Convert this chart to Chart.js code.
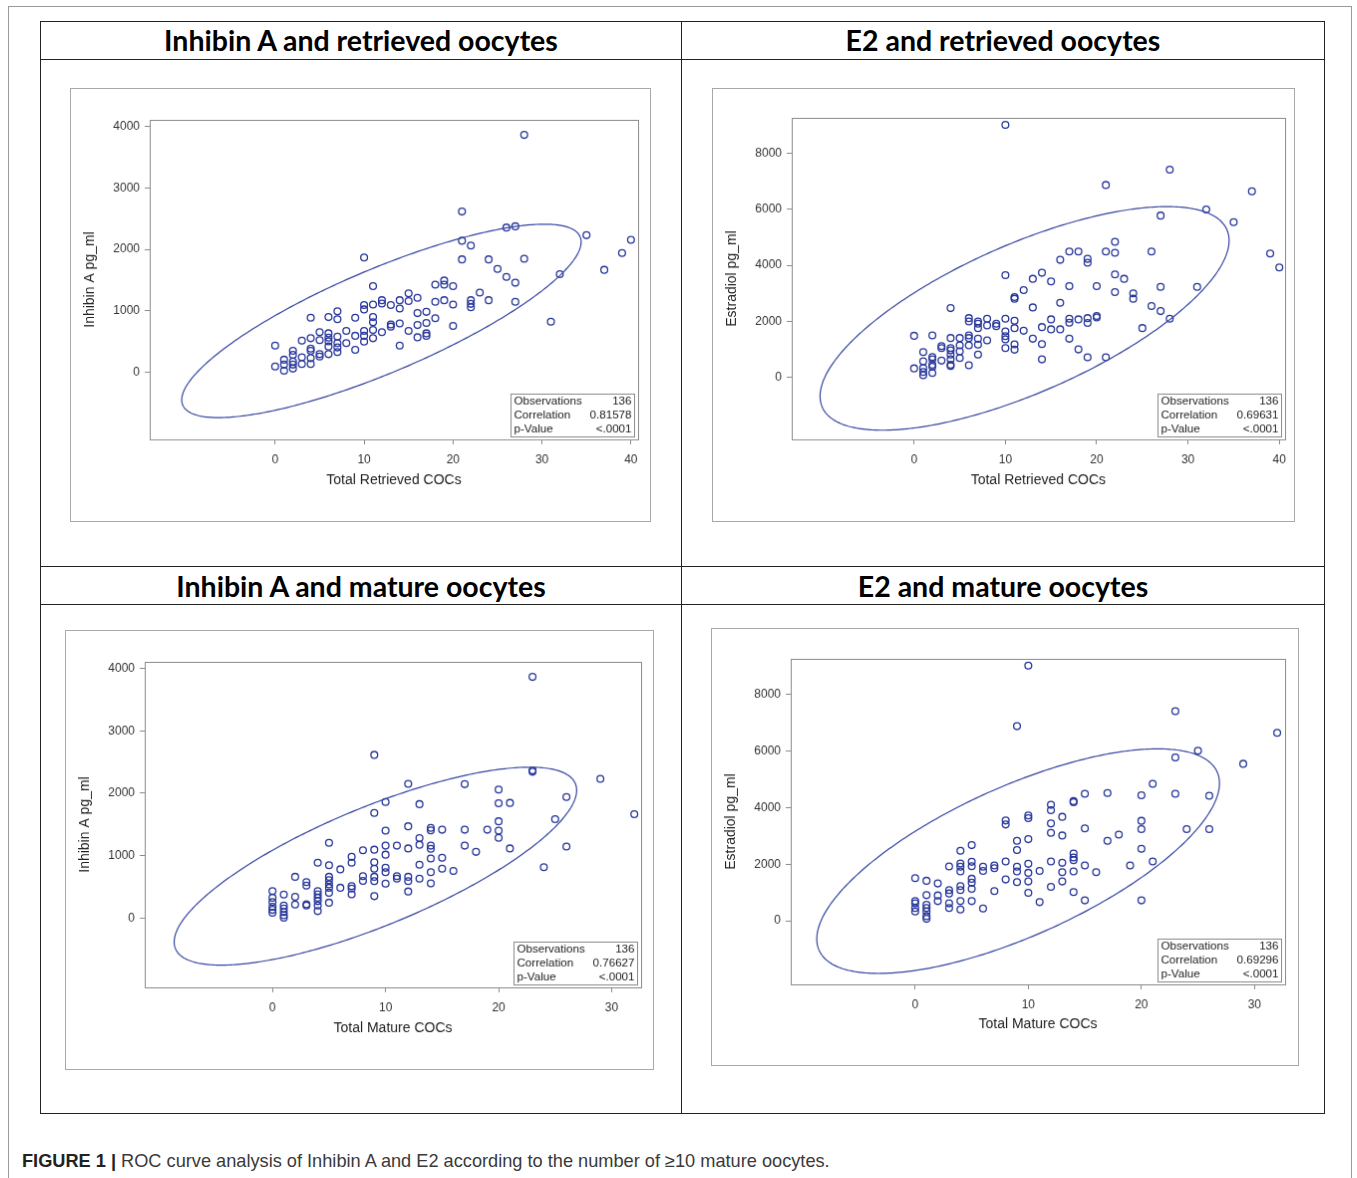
<!DOCTYPE html>
<html>
<head>
<meta charset="utf-8">
<script src="https://cdn.jsdelivr.net/npm/chart.js@4.4.1/dist/chart.umd.min.js"></script>
<style>
  body { margin: 0; background: #fff; width: 1357px; height: 1178px; position: relative; overflow: hidden; font-family: "Liberation Sans", Arial, sans-serif; }
  .frame { position: absolute; left: 8px; top: 6px; width: 1342px; height: 1200px; border: 1px solid #9a9a9a; }
  .tbl { position: absolute; left: 40px; top: 21px; width: 1285px; height: 1093px; border: 1.5px solid #222; box-sizing: border-box; }
  .hl { position: absolute; left: 40px; width: 1285px; border-top: 1.5px solid #222; }
  .vl { position: absolute; left: 681px; top: 21px; height: 1093px; border-left: 1.5px solid #222; }
  .ttl { position: absolute; width: 642px; height: 38px; line-height: 38px; text-align: center; font: bold 28.5px Lato, sans-serif; color: #000; }
  canvas { position: absolute; border: 1px solid #a8a8a8; }
  .cap { position: absolute; left: 22px; top: 1151px; font-size: 18.2px; color: #3a3a3a; white-space: nowrap; }
  .cap b { color: #222; }
</style>
</head>
<body>
<div class="frame"></div>
<div class="tbl"></div>
<div class="hl" style="top:59px"></div>
<div class="hl" style="top:566px"></div>
<div class="hl" style="top:604px"></div>
<div class="vl"></div>
<div class="ttl" style="left:40px;top:23px">Inhibin A and retrieved oocytes</div>
<div class="ttl" style="left:682px;top:23px">E2 and retrieved oocytes</div>
<div class="ttl" style="left:40px;top:569px">Inhibin A and mature oocytes</div>
<div class="ttl" style="left:682px;top:569px">E2 and mature oocytes</div>
<canvas id="c0"></canvas>
<canvas id="c1"></canvas>
<canvas id="c2"></canvas>
<canvas id="c3"></canvas>
<div class="cap"><b>FIGURE 1 |</b> ROC curve analysis of Inhibin A and E2 according to the number of ≥10 mature oocytes.</div>
<script>
'use strict'

// tick labels
const retrievedTicks = [0, 10, 20, 30, 40]
const matureTicks = [0, 10, 20, 30]
const inhibinTicks = [0, 1000, 2000, 3000, 4000]
const estradiolTicks = [0, 2000, 4000, 6000, 8000]

const xTitles = ['Total Retrieved COCs', 'Total Retrieved COCs', 'Total Mature COCs', 'Total Mature COCs']
const yTitles = ['Inhibin A pg_ml', 'Estradiol pg_ml', 'Inhibin A pg_ml', 'Estradiol pg_ml']

// inset stats
const observations = ['136', '136', '136', '136']
const correlations = ['0.81578', '0.69631', '0.76627', '0.69296']
const pValues = ['<.0001', '<.0001', '<.0001', '<.0001']

// [COCs, pg_ml]
const inhibinRetrieved = [
  [0,430],[0,90],
  [1,200],[1,120],[1,20],
  [2,345],[2,280],[2,170],[2,120],[2,55],
  [3,510],[3,240],[3,130],
  [4,885],[4,550],[4,380],[4,345],[4,225],[4,130],
  [5,650],[5,520],[5,290],[5,250],
  [6,895],[6,630],[6,560],[6,500],[6,415],[6,290],
  [7,990],[7,860],[7,575],[7,470],[7,400],[7,325],
  [8,670],[8,470],
  [9,885],[9,590],[9,360],
  [10,1865],[10,1090],[10,1020],[10,670],[10,590],[10,495],
  [11,1400],[11,1100],[11,895],[11,810],[11,685],[11,550],
  [12,1170],[12,1115],[12,650],
  [13,1090],[13,775],[13,740],
  [14,1170],[14,1035],[14,790],[14,430],
  [15,1280],[15,1155],[15,670],
  [16,1210],[16,960],[16,765],[16,565],
  [17,980],[17,800],[17,630],[17,590],
  [18,1425],[18,1145],[18,875],
  [19,1490],[19,1425],[19,1170],
  [20,1400],[20,1100],[20,750],
  [21,2615],[21,2140],[21,1835],
  [22,2060],[22,1170],[22,1110],[22,1055],
  [23,1295],
  [24,1835],[24,1170],
  [25,1680],
  [26,2355],[26,1550],
  [27,2375],[27,1455],[27,1145],
  [28,3865],[28,1845],
  [31,820],[32,1595],[35,2230],[37,1665],[39,1940],[40,2155]
]

const estradiolRetrieved = [
  [0,1490],[0,330],
  [1,910],[1,580],[1,345],[1,200],[1,85],
  [2,1505],[2,735],[2,650],[2,460],[2,390],[2,165],
  [3,1125],[3,1055],[3,605],
  [4,2475],[4,1410],[4,1055],[4,970],[4,820],[4,650],[4,460],[4,415],
  [5,1410],[5,1150],[5,935],[5,700],
  [6,2120],[6,2000],[6,1505],[6,1410],[6,1150],[6,440],
  [7,2000],[7,1920],[7,1765],[7,1385],[7,1175],[7,820],
  [8,2100],[8,1860],[8,1325],
  [9,1920],[9,1835],
  [10,9000],[10,3650],[10,2100],[10,1645],[10,1480],[10,1365],[10,1055],
  [11,2870],[11,2810],[11,2025],[11,1765],[11,1185],[11,995],
  [12,3115],[12,1670],
  [13,3520],[13,2500],[13,1385],
  [14,3735],[14,1800],[14,1195],[14,650],
  [15,3425],[15,2075],[15,1720],
  [16,4195],[16,2665],[16,1720],
  [17,4490],[17,3260],[17,2100],[17,1955],[17,1385],
  [18,4490],[18,2075],[18,1005],
  [19,4230],[19,4090],[19,2120],[19,1945],[19,725],
  [20,3260],[20,2195],[20,2145],
  [21,6860],[21,4490],[21,725],
  [22,4835],[22,4445],[22,3675],[22,3045],
  [23,3520],
  [24,3000],[24,2810],
  [25,1765],
  [26,4490],[26,2550],
  [27,5770],[27,3235],[27,2370],
  [28,7405],[28,2100],
  [31,3235],[32,5985],[35,5535],[37,6635],[39,4420],[40,3925]
]

const inhibinMature = [
  [0,430],[0,325],[0,255],[0,180],[0,130],[0,85],
  [1,375],[1,200],[1,150],[1,95],[1,45],[1,5],
  [2,660],[2,340],[2,215],
  [3,575],[3,520],[3,220],[3,200],
  [4,885],[4,430],[4,380],[4,325],[4,270],[4,200],[4,110],
  [5,1205],[5,845],[5,660],[5,605],[5,540],[5,485],[5,405],[5,245],
  [6,780],[6,485],
  [7,980],[7,885],[7,510],[7,470],[7,380],
  [8,1085],[8,670],[8,595],
  [9,2615],[9,1685],[9,1095],[9,895],[9,790],[9,660],[9,590],[9,350],
  [10,1860],[10,1400],[10,1160],[10,1015],[10,805],[10,735],[10,550],
  [11,1160],[11,670],[11,630],
  [12,2150],[12,1470],[12,1115],[12,660],[12,590],[12,425],
  [13,1825],[13,1280],[13,1175],[13,855],[13,630],
  [14,1445],[14,1405],[14,1160],[14,1110],[14,955],[14,735],[14,555],
  [15,1415],[15,965],[15,790],
  [16,755],
  [17,2145],[17,1415],[17,1160],
  [18,1060],[19,1415],
  [20,2060],[20,1840],[20,1550],[20,1400],[20,1285],
  [21,1845],[21,1115],
  [23,3865],[23,2365],[23,2345],
  [24,815],[25,1585],[26,1940],[26,1145],[29,2230],[32,1665]
]

const estradiolMature = [
  [0,1510],[0,695],[0,615],[0,450],[0,330],
  [1,1415],[1,905],[1,565],[1,450],[1,330],[1,165],[1,70],
  [2,1320],[2,895],[2,695],
  [3,1920],[3,1085],[3,965],[3,615],[3,450],
  [4,2475],[4,2025],[4,1910],[4,1745],[4,1225],[4,1085],[4,695],[4,400],
  [5,2675],[5,2085],[5,1930],[5,1485],[5,1345],[5,1130],[5,695],
  [6,1910],[6,1765],[6,435],
  [7,1955],[7,1860],[7,1050],
  [8,3545],[8,3405],[8,2095],[8,1460],
  [9,6880],[9,2830],[9,2500],[9,1910],[9,1745],[9,1365],
  [10,9025],[10,3725],[10,3630],[10,2885],[10,2015],[10,1695],[10,1390],[10,990],
  [11,1765],[11,660],
  [12,4100],[12,3910],[12,3440],[12,3110],[12,2095],[12,1200],
  [13,3675],[13,3015],[13,2050],[13,1720],[13,1390],
  [14,4230],[14,4195],[14,2380],[14,2240],[14,2145],[14,1745],[14,1015],
  [15,4490],[15,3265],[15,1955],[15,720],
  [16,1720],
  [17,4515],[17,2830],
  [18,3050],[19,1955],
  [20,4440],[20,3535],[20,3240],[20,2545],[20,720],
  [21,4840],[21,2095],
  [23,7410],[23,5775],[23,4490],
  [24,3240],[25,6010],[26,4420],[26,3240],[29,5550],[32,6645]
]

// 95% prediction ellipse: centre and half extent along each axis
const ellipseCx = [11.95, 12.1, 9.1, 9.1]
const ellipseCy = [832, 2110, 831, 2109]
const ellipseHx = [22.45, 22.4, 17.8, 17.8]
const ellipseHy = [1577, 3982, 1587, 3971]

const xMin = [-14.1, -13.4, -11.3, -11.0]
const xMax = [40.8, 40.6, 32.6, 32.7]
const yMin = [-1100, -2200, -1113, -2250]
const yMax = [4110, 9250, 4106, 9260]

const allPoints = [inhibinRetrieved, estradiolRetrieved, inhibinMature, estradiolMature]
const allXTicks = [retrievedTicks, retrievedTicks, matureTicks, matureTicks]
const allYTicks = [inhibinTicks, estradiolTicks, inhibinTicks, estradiolTicks]

// page boxes: [left, top, width, height] of the grey box, then plot area [left, top, right, bottom]
const boxes = [
  [70, 88, 582, 435, 150, 120, 640, 441],
  [712, 88, 584, 435, 792, 118, 1287, 441],
  [65, 630, 590, 441, 145, 662, 643, 989],
  [711, 628, 589, 439, 791, 659, 1287, 986]
]

const blue = '#27369a'
const font = '"Liberation Sans", Arial, sans-serif'

const overlay = {
  id: 'overlay',
  afterDatasetsDraw(chart, args, opts) {
    const {ctx, chartArea: a, scales: {x, y}} = chart
    const i = opts.index
    const r = parseFloat(correlations[i])
    const q = Math.sqrt(1 - r * r)

    ctx.save()
    ctx.strokeStyle = '#3545a0'
    ctx.lineWidth = 1.2
    ctx.beginPath()
    for (let k = 0; k <= 360; k++) {
      const t = k * Math.PI / 180
      const vx = ellipseCx[i] + ellipseHx[i] * Math.cos(t)
      const vy = ellipseCy[i] + ellipseHy[i] * (r * Math.cos(t) + q * Math.sin(t))
      const px = x.getPixelForValue(vx)
      const py = y.getPixelForValue(vy)
      if (k === 0) ctx.moveTo(px, py)
      else ctx.lineTo(px, py)
    }
    ctx.closePath()
    ctx.stroke()

    // plot frame
    ctx.strokeStyle = '#8a8a8a'
    ctx.lineWidth = 1
    ctx.strokeRect(Math.round(a.left) + 0.5, Math.round(a.top) + 0.5, Math.round(a.right - a.left), Math.round(a.bottom - a.top))

    // stats inset
    const w = 124, h = 43
    const bx = Math.round(a.right) - 4 - w + 0.5
    const by = Math.round(a.bottom) - 3 - h + 0.5
    ctx.fillStyle = '#fff'
    ctx.fillRect(bx, by, w, h)
    ctx.strokeStyle = '#8a8a8a'
    ctx.strokeRect(bx, by, w, h)
    ctx.fillStyle = '#222'
    ctx.font = '11.6px ' + font
    ctx.textBaseline = 'middle'
    const labels = ['Observations', 'Correlation', 'p-Value']
    const vals = [observations[i], correlations[i], pValues[i]]
    labels.forEach((lab, j) => {
      const ty = by + 7.5 + j * 14
      ctx.textAlign = 'left'
      ctx.fillText(lab, bx + 3, ty)
      ctx.textAlign = 'right'
      ctx.fillText(vals[j], bx + w - 3, ty)
    })
    ctx.restore()
  }
}

const makePanel = (i) => {
  const [bl, bt, bw, bh, pl, pt, pr, pb] = boxes[i]
  const canvas = document.getElementById('c' + i)
  // border sits on the box outline, canvas fills the inside
  const cl = bl + 1, ct = bt + 1, cw = bw - 1, ch = bh - 1
  canvas.style.left = bl + 'px'
  canvas.style.top = bt + 'px'
  canvas.width = cw
  canvas.height = ch

  const leftOff = pl - cl
  const topOff = pt - ct
  const rightOff = cl + cw - pr
  const bottomOff = ct + ch - pb
  const xt = allXTicks[i]
  const yt = allYTicks[i]

  new Chart(canvas, {
    type: 'scatter',
    data: {
      datasets: [{
        data: allPoints[i].map(p => ({x: p[0], y: p[1]})),
        pointRadius: 3.4,
        pointHoverRadius: 3.4,
        pointBorderWidth: 1.3,
        pointBorderColor: blue,
        pointBackgroundColor: 'rgba(0,0,0,0)'
      }]
    },
    options: {
      responsive: false,
      animation: false,
      devicePixelRatio: 1,
      events: [],
      layout: {padding: {top: topOff, right: rightOff, left: 0, bottom: 0}},
      plugins: {legend: {display: false}, tooltip: {enabled: false}, overlay: {index: i}},
      scales: {
        x: {
          type: 'linear',
          min: xMin[i],
          max: xMax[i],
          afterBuildTicks: s => { s.ticks = xt.map(v => ({value: v})) },
          afterFit: s => { s.height = bottomOff },
          grid: {drawOnChartArea: false, tickLength: 5, color: '#8a8a8a'},
          border: {color: '#8a8a8a'},
          ticks: {font: {size: 12, family: font}, color: '#333', padding: 8, maxRotation: 0, autoSkip: false, callback: v => String(v)},
          title: {display: true, text: xTitles[i], font: {size: 14, family: font}, color: '#222', padding: {top: 0, bottom: 32}}
        },
        y: {
          type: 'linear',
          min: yMin[i],
          max: yMax[i],
          afterBuildTicks: s => { s.ticks = yt.map(v => ({value: v})) },
          afterFit: s => { s.width = leftOff },
          grid: {drawOnChartArea: false, tickLength: 5, color: '#8a8a8a'},
          border: {color: '#8a8a8a'},
          ticks: {font: {size: 12, family: font}, color: '#333', padding: 5, autoSkip: false, callback: v => String(v)},
          title: {display: true, text: yTitles[i], font: {size: 14, family: font}, color: '#222', padding: {top: 11, bottom: 0}}
        }
      }
    },
    plugins: [overlay]
  })
}

for (let i = 0; i < 4; i++) makePanel(i)
</script>
</body>
</html>
